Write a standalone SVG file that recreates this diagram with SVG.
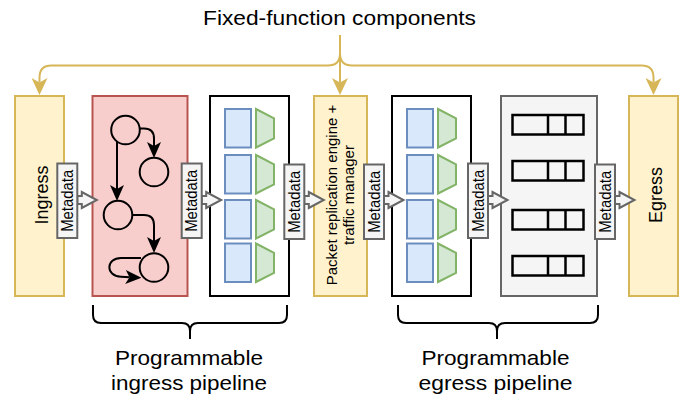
<svg xmlns="http://www.w3.org/2000/svg" xmlns:xlink="http://www.w3.org/1999/xlink" width="685" height="398" viewBox="0 0 685 398">
<style>
text{font-family:"Liberation Sans",Arial,Helvetica,sans-serif;fill:#000}
.big{font-size:21px}
.side{font-size:18px}
.meta{font-size:16px}
.pkt{font-size:15px}
.yellow{fill:#fff2cc;stroke:#d6b656;stroke-width:2}
.red{fill:#f8cecc;stroke:#b85450;stroke-width:2}
.blk{fill:#ffffff;stroke:#000;stroke-width:2}
.grey{fill:#f5f5f5;stroke:#666666;stroke-width:2}
.mbox{fill:#f5f5f5;stroke:#666666;stroke-width:2}
.blue{fill:#dae8fc;stroke:#6c8ebf;stroke-width:2}
.green{fill:#d5e8d4;stroke:#82b366;stroke-width:2}
.queue{fill:none;stroke:#000;stroke-width:2.5}
.state{fill:none;stroke:#000;stroke-width:2}
.edge{fill:none;stroke:#000;stroke-width:2}
.yedge{fill:none;stroke:#d6b656;stroke-width:2}
.brace{fill:none;stroke:#000;stroke-width:2}
.barrow{fill:#f5f5f5;stroke:#666666;stroke-width:2;stroke-linejoin:miter}
</style>
<defs>
<marker id="ah" viewBox="0 0 16 14" refX="4" refY="7" markerWidth="16" markerHeight="14" markerUnits="userSpaceOnUse" orient="auto">
<path d="M0,0 L16,7 L0,14 L4,7 Z" fill="#000"/>
</marker>
<marker id="yah" viewBox="0 0 17 16" refX="4.5" refY="8" markerWidth="17" markerHeight="16" markerUnits="userSpaceOnUse" orient="auto">
<path d="M0,0 L17,8 L0,16 L4.5,8 Z" fill="#d6b656"/>
</marker>
<path id="blockArrow" d="M0,-4 L4.5,-4 L4.5,-8 L19.5,0 L4.5,8 L4.5,4 L0,4 Z"/>
<g id="mat">
<rect x="0" y="0" width="26" height="38.5" class="blue"/>
<path d="M31,0 L49,9.3 L49,29.3 L31,38.5 Z" class="green"/>
</g>
<g id="q">
<rect x="0" y="0" width="71" height="19.5" class="queue"/>
<line x1="35.5" y1="0" x2="35.5" y2="19.5" class="queue"/>
<line x1="53" y1="0" x2="53" y2="19.5" class="queue"/>
</g>
</defs>

<text x="339.5" y="25" class="big" text-anchor="middle" textLength="273" lengthAdjust="spacingAndGlyphs" font-size="20.5">Fixed-function components</text>

<g id="ingress">
<rect x="15" y="96" width="49" height="200" class="yellow"/>
<text class="side" text-anchor="middle" transform="translate(48,195) rotate(-90)">Ingress</text>
</g>

<g id="parser">
<rect x="92.5" y="96" width="95" height="200" class="red"/>
<circle cx="125.5" cy="130" r="14.3" class="state"/>
<circle cx="154" cy="172" r="14.3" class="state"/>
<circle cx="118" cy="215" r="14.3" class="state"/>
<circle cx="154" cy="267.5" r="14.3" class="state"/>
<path d="M117,141.5 L117,189" class="edge" marker-end="url(#ah)"/>
<path d="M139.5,128.5 L144,128.5 Q154,128.5 154,138.5 L154,146" class="edge" marker-end="url(#ah)"/>
<path d="M132.3,215 L144,215 Q154,215 154,225 L154,241" class="edge" marker-end="url(#ah)"/>
<path d="M141,258 L121,258 C106,258 105,276 121,276.8 L129.5,277.2" class="edge" marker-end="url(#ah)"/>
</g>

<g id="ingress-tables">
<rect x="210" y="96" width="79" height="200" class="blk"/>
<use xlink:href="#mat" href="#mat" x="225" y="109"/>
<use xlink:href="#mat" href="#mat" x="225" y="155"/>
<use xlink:href="#mat" href="#mat" x="225" y="200"/>
<use xlink:href="#mat" href="#mat" x="225" y="243.5"/>
</g>

<g id="prtm">
<rect x="314" y="96" width="53" height="200" class="yellow"/>
<text class="pkt" text-anchor="middle" transform="translate(340.5,195) rotate(-90)"><tspan x="0" y="-3.5">Packet replication engine +</tspan><tspan x="0" y="13.5">traffic manager</tspan></text>
</g>

<g id="egress-tables">
<rect x="392" y="96" width="79" height="200" class="blk"/>
<use xlink:href="#mat" href="#mat" x="407" y="109"/>
<use xlink:href="#mat" href="#mat" x="407" y="155"/>
<use xlink:href="#mat" href="#mat" x="407" y="200"/>
<use xlink:href="#mat" href="#mat" x="407" y="243.5"/>
</g>

<g id="deparser">
<rect x="501" y="96" width="96" height="200" class="grey"/>
<use xlink:href="#q" href="#q" x="512.5" y="115"/>
<use xlink:href="#q" href="#q" x="512.5" y="161"/>
<use xlink:href="#q" href="#q" x="512.5" y="210"/>
<use xlink:href="#q" href="#q" x="512.5" y="256"/>
</g>

<g id="egress">
<rect x="629" y="96" width="49" height="200" class="yellow"/>
<text class="side" text-anchor="middle" transform="translate(661.5,195) rotate(-90)">Egress</text>
</g>

<g id="connectors">
<path d="M340,35 L340,82.5" class="yedge" marker-end="url(#yah)"/>
<path d="M340,45 L340,53.5 Q340,65.5 328,65.5 L51.5,65.5 Q39.5,65.5 39.5,77.5 L39.5,82.5" class="yedge" marker-end="url(#yah)"/>
<path d="M340,53.5 Q340,65.5 352,65.5 L641.5,65.5 Q653.5,65.5 653.5,77.5 L653.5,82.5" class="yedge" marker-end="url(#yah)"/>
<use xlink:href="#blockArrow" href="#blockArrow" x="77.3" y="200" class="barrow"/>
<use xlink:href="#blockArrow" href="#blockArrow" x="201.7" y="200" class="barrow"/>
<use xlink:href="#blockArrow" href="#blockArrow" x="304.3" y="200" class="barrow"/>
<use xlink:href="#blockArrow" href="#blockArrow" x="384" y="200" class="barrow"/>
<use xlink:href="#blockArrow" href="#blockArrow" x="488" y="200" class="barrow"/>
<use xlink:href="#blockArrow" href="#blockArrow" x="615" y="200" class="barrow"/>
</g>

<g id="meta1">
<rect x="57.3" y="163.5" width="20" height="74.5" class="mbox"/>
<text class="meta" text-anchor="middle" textLength="62" lengthAdjust="spacingAndGlyphs" transform="translate(73,200.8) rotate(-90)">Metadata</text>
</g>
<g id="meta2">
<rect x="181.7" y="163.5" width="20" height="74.5" class="mbox"/>
<text class="meta" text-anchor="middle" textLength="62" lengthAdjust="spacingAndGlyphs" transform="translate(197.4,200.8) rotate(-90)">Metadata</text>
</g>
<g id="meta3">
<rect x="284.3" y="164.5" width="20" height="74.5" class="mbox"/>
<text class="meta" text-anchor="middle" textLength="62" lengthAdjust="spacingAndGlyphs" transform="translate(300,201.8) rotate(-90)">Metadata</text>
</g>
<g id="meta4">
<rect x="364" y="164.5" width="20" height="74.5" class="mbox"/>
<text class="meta" text-anchor="middle" textLength="62" lengthAdjust="spacingAndGlyphs" transform="translate(379.7,201.8) rotate(-90)">Metadata</text>
</g>
<g id="meta5">
<rect x="468" y="163.5" width="20" height="74.5" class="mbox"/>
<text class="meta" text-anchor="middle" textLength="62" lengthAdjust="spacingAndGlyphs" transform="translate(483.7,200.8) rotate(-90)">Metadata</text>
</g>
<g id="meta6">
<rect x="595" y="164.5" width="20" height="74.5" class="mbox"/>
<text class="meta" text-anchor="middle" textLength="62" lengthAdjust="spacingAndGlyphs" transform="translate(610.7,201.8) rotate(-90)">Metadata</text>
</g>

<g id="ingress-pipeline">
<path d="M93,305 L93,315 Q93,323 101,323 L182,323 Q190,323 190,331 L190,339 M190,331 Q190,323 198,323 L279,323 Q287,323 287,315 L287,305" class="brace"/>
<text x="189" y="365" class="big" text-anchor="middle" textLength="148" lengthAdjust="spacingAndGlyphs">Programmable</text>
<text x="189" y="390" class="big" text-anchor="middle" textLength="156" lengthAdjust="spacingAndGlyphs">ingress pipeline</text>
</g>

<g id="egress-pipeline">
<path d="M398,305 L398,315 Q398,323 406,323 L489,323 Q497,323 497,331 L497,339 M497,331 Q497,323 505,323 L590,323 Q598,323 598,315 L598,305" class="brace"/>
<text x="495.5" y="365" class="big" text-anchor="middle" textLength="148" lengthAdjust="spacingAndGlyphs">Programmable</text>
<text x="495.5" y="390" class="big" text-anchor="middle" textLength="154" lengthAdjust="spacingAndGlyphs">egress pipeline</text>
</g>
</svg>
